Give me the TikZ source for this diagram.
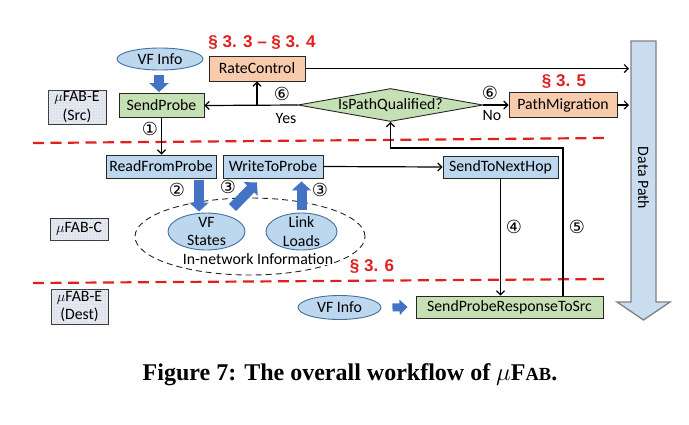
\documentclass[tikz,border=0pt]{standalone}
\usepackage{fontspec}
\setmainfont{Carlito}
\newfontfamily\dvfont{DejaVu Sans}
\newfontfamily\secfont{Liberation Sans}
\newfontfamily\capfont{Liberation Serif}
\usetikzlibrary{shapes.geometric,arrows.meta,patterns,calc}
\definecolor{nblue}{HTML}{BDD7EE}
\definecolor{ngreen}{HTML}{C5E0B4}
\definecolor{norange}{HTML}{F8CBAD}
\definecolor{aBlue}{HTML}{4472C4}
\definecolor{eborder}{HTML}{41719C}
\definecolor{secred}{HTML}{E0201F}
\definecolor{dpfill}{HTML}{C9DCF0}
\definecolor{mfill}{HTML}{E4E9F2}
\tikzset{
  txt/.style={inner sep=0pt, font=\fontsize{15.8}{18.5}\selectfont, align=center},
  box/.style={txt, draw=black!85, line width=0.9pt},
  bbox/.style={box, fill=nblue},
  gbox/.style={box, fill=ngreen},
  obox/.style={box, fill=norange},
  ell/.style={txt, ellipse, draw=eborder, line width=0.9pt, fill=nblue},
  mbox/.style={txt, draw=black!80, line width=0.9pt, fill=mfill, postaction={pattern=dots, pattern color=black!30}},
  conn/.style={line width=1.2pt, -{Straight Barb[length=4pt,width=8pt]}},
  bigarr/.style={draw=aBlue, line width=10pt, -{Triangle[length=9pt,width=19pt]}},
  circ/.style={inner sep=0pt, font=\dvfont\fontsize{18}{18}\selectfont},
  sec/.style={inner sep=0pt, text=secred, font=\secfont\bfseries\fontsize{17}{17}\selectfont},
  redline/.style={draw=secred, line width=2.2pt, dash pattern=on 11pt off 6.5pt}
}
\begin{document}
\begin{tikzpicture}[x=1pt,y=-1pt]
\useasboundingbox (0,0) rectangle (689,424);
% Data path arrow
\path[draw=black!50, fill=dpfill, line width=1.3pt, line join=miter]
  (631,41) -- (656,41) -- (656,302) -- (670,302) -- (643.5,320) -- (617,302) -- (631,302) -- cycle;
\node[txt, rotate=-90] (dpt) at (643.5,178) {Data Path};
\coordinate (dpl) at (629,0);
% red separators
\draw[redline] (33,143) -- (605,138);
\draw[redline] (33,283) -- (607,279);
% left tags
\node[mbox, minimum width=58, minimum height=34] (mfe1) at (77,107) {$\mu$FAB-E\\(Src)};
\node[mbox, minimum width=58, minimum height=22] (mfc) at (79,229) {$\mu$FAB-C};
\node[mbox, minimum width=57, minimum height=35] (mfe2) at (79.5,306.5) {$\mu$FAB-E\\(Dest)};
% top row
\node[ell, minimum width=86, minimum height=22] (vf1) at (160,59) {VF Info};
\node[gbox, minimum width=85, minimum height=24] (sp) at (161.5,105.5) {SendProbe};
\node[obox, minimum width=96, minimum height=25] (rc) at (257,68.5) {RateControl};
\node[sec] (s34) at (262,43) {§ 3. 3 – § 3. 4};
\node[diamond, draw=black!85, line width=0.9pt, fill=ngreen, inner sep=0pt, minimum width=185, minimum height=33] (dq) at (390.5,105) {};
\node[txt] (dqt) at (dq) {IsPathQualified?};
\node[obox, minimum width=108, minimum height=25] (pm) at (563,105) {PathMigration};
\node[sec] (s35) at (564,82) {§ 3. 5};
% middle row
\node[bbox, minimum width=110, minimum height=23] (rfp) at (161,166.5) {ReadFromProbe};
\node[bbox, minimum width=100, minimum height=23] (wtp) at (273,166.5) {WriteToProbe};
\node[bbox, minimum width=115, minimum height=22] (stnh) at (500.5,167) {SendToNextHop};
\node[ellipse, draw=black!85, line width=0.9pt, dash pattern=on 6pt off 4pt, minimum width=230, minimum height=77] (inf) at (250,236.5) {};
\node[ell, minimum width=77, minimum height=37] (vfs) at (206.5,231.5) {};
\node[txt] (vfst) at (vfs) {VF\\States};
\node[ell, minimum width=71, minimum height=37] (ll) at (301.5,231.5) {};
\node[txt] (llt) at (ll) {Link\\Loads};
\node[txt, fill=white, inner xsep=1pt] (inft) at (258,259) {In-network Information};
\node[sec] (s36) at (372,267) {§ 3. 6};
% bottom row
\node[ell, minimum width=83, minimum height=24] (vf2) at (339.5,307.5) {VF Info};
\node[gbox, minimum width=187, minimum height=22] (sprs) at (509.5,307) {SendProbeResponseToSrc};
% connectors
\draw[conn] (rc.east) -- (rc.east -| dpl);
\draw[conn] (pm.east) -- (pm.east -| dpl);
\draw[conn] (dq.west) -- (sp.east);
\draw[conn] (rc.south |- dq.west) -- (rc.south);
\draw[conn] (dq.east) -- (pm.west);
\draw[conn] (sp.south) -- (sp.south |- rfp.north);
\draw[conn] (wtp.east) -- (stnh.west);
\draw[conn] (stnh.south) -- (stnh.south |- sprs.north);
\draw[conn] ([xshift=53.5pt]sprs.north) |- ($(dq.south)+(0,26)$) -- (dq.south);
% blue block arrows
\draw[bigarr] ([xshift=-1pt,yshift=-5pt]vf1.south) -- ([xshift=-2.5pt,yshift=1pt]sp.north);
\draw[bigarr] ([xshift=38pt,yshift=-2pt]rfp.south) -- ([xshift=-7.5pt,yshift=1pt]vfs.north);
\draw[bigarr] ([xshift=26pt,yshift=5pt]vfs.north) -- ([xshift=-16pt,yshift=-4pt]wtp.south);
\draw[bigarr] ([yshift=3pt]ll.north) -- ([xshift=28.5pt,yshift=-3pt]wtp.south);
\draw[bigarr, line width=8pt, -{Triangle[length=8pt,width=15pt]}] ([xshift=11pt]vf2.east) -- ([xshift=-8pt]sprs.west);
% circled numbers and labels
\node[circ] (c1) at (150,129) {①};
\node[circ] (c6a) at (282,94) {⑥};
\node[txt] (yes) at (286,118) {Yes};
\node[circ] (c6b) at (490,93) {⑥};
\node[txt] (no) at (492,115) {No};
\node[circ] (c2) at (177,190) {②};
\node[circ] (c3a) at (228,187) {③};
\node[circ] (c3b) at (320,190) {③};
\node[circ] (c4) at (514,227) {④};
\node[circ] (c5) at (577,227) {⑤};
% caption
\node[inner sep=0pt, font=\capfont\bfseries\fontsize{24}{24}\selectfont] (cap) at (350,375)
  {Figure 7: The overall workflow of $\mu$F{\fontsize{18.5}{18}\selectfont AB}.};
\end{tikzpicture}
\end{document}
